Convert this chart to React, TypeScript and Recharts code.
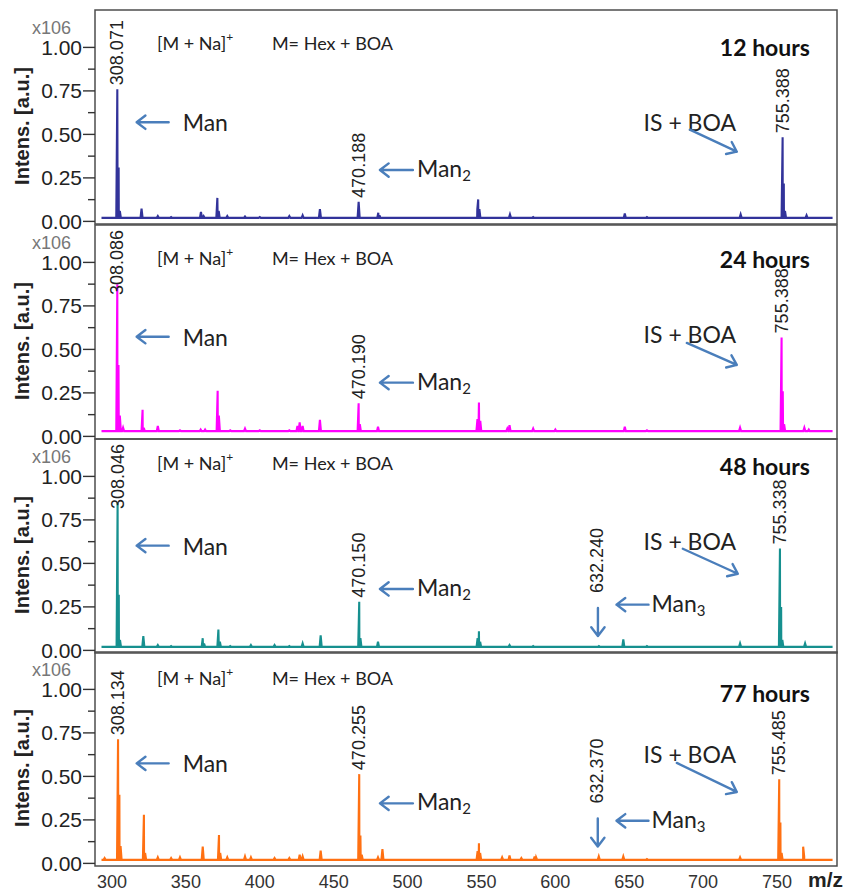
import React from "react"
import { LineChart, Line, XAxis, YAxis, ReferenceArea, ReferenceDot } from "recharts"

type Peak = [number, number]
type PeakLabel = [number, string]

// m/z axis
const MZ_TICKS = [300, 350, 400, 450, 500, 550, 600, 650, 700, 750]
const MZ_DOMAIN: [number, number] = [288.5, 790.6]
const MZ_START = 292.9
const MZ_END = 787.6

// intensity axis (x10^6)
const INTENSITY_TICKS = [0, 0.125, 0.25, 0.375, 0.5, 0.625, 0.75, 0.875, 1]
const Y_DOMAIN: [number, number] = [-0.015, 1.215]

// peak lists: [m/z, intensity]
const peaks12h: Peak[] = [
  [303.6, 0.76], [304.5, 0.31], [305.3, 0.06], [320, 0.074], [331, 0.03], [340, 0.025],
  [360.2, 0.054], [362, 0.03], [371.3, 0.135], [372.2, 0.06], [378, 0.03], [390, 0.028],
  [400, 0.025], [420, 0.03], [429, 0.035], [440.7, 0.07], [466.9, 0.112], [480.2, 0.05],
  [481, 0.035], [547.2, 0.07], [547.8, 0.126], [548.6, 0.07], [569.3, 0.04], [585, 0.025],
  [647, 0.045], [662, 0.025], [725.4, 0.04], [753.8, 0.483], [754.6, 0.218], [755.4, 0.06],
  [770, 0.035],
]
const peaks24h: Peak[] = [
  [303.6, 0.875], [304.4, 0.41], [305.3, 0.12], [307.5, 0.05], [320.7, 0.153], [321.5, 0.05],
  [331, 0.06], [346, 0.035], [360, 0.04], [363, 0.04], [371.5, 0.262], [372.3, 0.12],
  [380, 0.035], [390, 0.045], [400, 0.035], [420, 0.035], [425.5, 0.06], [427, 0.08],
  [429, 0.06], [440.7, 0.095], [466.9, 0.19], [467.7, 0.07], [480, 0.055], [547.3, 0.1],
  [548.3, 0.195], [549.2, 0.09], [567.5, 0.045], [569, 0.065], [585, 0.045], [600, 0.04],
  [647, 0.055], [662, 0.035], [725, 0.05], [753.1, 0.569], [753.9, 0.26], [754.8, 0.07],
  [768.5, 0.05], [771.5, 0.04],
]
const peaks48h: Peak[] = [
  [303.8, 0.85], [304.6, 0.32], [305.4, 0.06], [321.2, 0.082], [331, 0.03], [340, 0.025],
  [361.4, 0.07], [362.3, 0.04], [372, 0.12], [373, 0.05], [380, 0.025], [394, 0.03],
  [410, 0.03], [420, 0.025], [429, 0.04], [441.2, 0.086], [467.3, 0.28], [468.1, 0.07],
  [480, 0.05], [547.4, 0.07], [548.3, 0.11], [549.1, 0.05], [569, 0.03], [585, 0.025],
  [629.5, 0.025], [646, 0.063], [662, 0.025], [725, 0.04], [752, 0.585], [752.8, 0.25],
  [753.6, 0.06], [769, 0.04],
]
const peaks77h: Peak[] = [
  [295, 0.03], [304.1, 0.713], [305, 0.394], [305.8, 0.1], [321.6, 0.279], [322.4, 0.06],
  [331, 0.035], [340, 0.03], [346, 0.035], [361.4, 0.096], [372.4, 0.163], [373.2, 0.06],
  [378, 0.035], [390, 0.04], [394, 0.035], [410, 0.03], [420, 0.03], [427, 0.05], [429, 0.04],
  [441.2, 0.073], [467.3, 0.513], [468.1, 0.16], [469, 0.05], [480, 0.035], [483, 0.082],
  [547.4, 0.07], [548.3, 0.115], [549.1, 0.06], [564, 0.035], [569, 0.045], [577, 0.03],
  [586, 0.04], [587, 0.035], [629.4, 0.04], [646, 0.04], [662, 0.025], [725, 0.035],
  [751.5, 0.484], [752.3, 0.235], [753.1, 0.06], [767.7, 0.096], [768.4, 0.04],
]
const baselines = [0.02, 0.03, 0.02, 0.02]

// labelled peaks: [m/z, label]
const labels12h: PeakLabel[] = [[303.6, "308.071"], [466.9, "470.188"], [753.8, "755.388"]]
const labels24h: PeakLabel[] = [[303.6, "308.086"], [466.9, "470.190"], [753.1, "755.388"]]
const labels48h: PeakLabel[] = [[303.8, "308.046"], [467.3, "470.150"], [752, "755.338"]]
const labels77h: PeakLabel[] = [[304.1, "308.134"], [467.3, "470.255"], [751.5, "755.485"]]
const man3Labels: (PeakLabel | null)[] = [null, null, [629.5, "632.240"], [629.4, "632.370"]]

const timeLabels = ["12 hours", "24 hours", "48 hours", "77 hours"]
const colors = ["#32339a", "#ff00ff", "#16908f", "#ff7012"]

// annotation heights (intensity units) per panel
const headerY = [1.025, 1.028, 1.077, 1.068]
const hoursY = [1.004, 1.02, 1.057, 0.979]
const manY = [0.57, 0.573, 0.602, 0.575]
const man2Y = [0.295, 0.309, 0.353, 0.345]
const man3Y = [null, null, 0.263, 0.245]
const isBoaY = [0.573, 0.589, 0.63, 0.629]
const isBoaArrows = [[0, 8, 47, 30], [-3, 9, 47, 31], [-7, 8, 48, 33], [-13, 9, 47, 38]]

const series = [peaks12h, peaks24h, peaks48h, peaks77h]
const peakLabels = [labels12h, labels24h, labels48h, labels77h]
const panelTops = [10, 225, 439, 652]

const ARIAL = '"Liberation Sans", Arial, sans-serif'
const CALIBRI = 'Lato, "Open Sans", sans-serif'
const ARROW = "#4a7ebb"

function buildTrace(peaks: Peak[], base: number) {
  const pts = [{ mz: MZ_START, y: base }, { mz: MZ_END, y: base }]
  peaks.forEach(([mz, h]) => {
    pts.push({ mz: mz - 0.7, y: base }, { mz, y: h }, { mz: mz + 0.7, y: base })
  })
  return pts.sort((a, b) => a.mz - b.mz)
}

function Arrow({ x1, y1, x2, y2 }: { x1: number; y1: number; x2: number; y2: number }) {
  const ang = Math.atan2(y2 - y1, x2 - x1)
  const L = 11
  const a = 0.65
  const h1x = x2 - L * Math.cos(ang - a)
  const h1y = y2 - L * Math.sin(ang - a)
  const h2x = x2 - L * Math.cos(ang + a)
  const h2y = y2 - L * Math.sin(ang + a)
  return (
    <path
      d={`M${x1},${y1}L${x2},${y2}M${h1x},${h1y}L${x2},${y2}L${h2x},${h2y}`}
      stroke={ARROW}
      strokeWidth={2.4}
      fill="none"
      strokeLinecap="round"
      strokeLinejoin="round"
    />
  )
}

const IntensityTick = (props: any) => {
  const { x, y, payload } = props
  const v = payload.value as number
  const major = Math.abs(v * 4 - Math.round(v * 4)) < 1e-6
  return (
    <g>
      <line x1={x - (major ? 12 : 7)} x2={x} y1={y} y2={y} stroke="#333" strokeWidth={1.4} />
      {major && (
        <text x={x - 13} y={y} textAnchor="end" dominantBaseline="central" fontSize={21} fontFamily={ARIAL} fill="#222">
          {v.toFixed(2)}
        </text>
      )}
    </g>
  )
}

const renderIntensLabel = () => (
  <g>
    <text x={32} y={24} fontSize={18} fontFamily={ARIAL} fill="#777">x106</text>
    <text
      transform="translate(22,116) rotate(-90)"
      textAnchor="middle"
      dominantBaseline="central"
      fontSize={20}
      fontWeight="bold"
      fontFamily={ARIAL}
      fill="#222"
    >
      Intens. [a.u.]
    </text>
  </g>
)

const renderMzLabel = () => (
  <text x={808} y={235} fontSize={21} fontWeight="bold" fontFamily={ARIAL} fill="#222">m/z</text>
)

const anchor = (key: string, mz: number, y: number, render: (cx: number, cy: number) => React.ReactNode) => (
  <ReferenceDot
    key={key}
    x={mz}
    y={y}
    r={0}
    ifOverflow="visible"
    shape={(p: any) => <g>{render(p.cx, p.cy)}</g>}
  />
)

function SpectrumPanel({ index, bottomAxis }: { index: number; bottomAxis: boolean }) {
  const peaks = series[index]
  const data = buildTrace(peaks, baselines[index])
  const height = bottomAxis ? 240 : 214
  const heightAt = (mz: number) => (peaks.find((p) => p[0] === mz) ?? [mz, 0])[1]
  const [tdx, tdy, hdx, hdy] = isBoaArrows[index]
  const m3 = man3Labels[index]
  const m3y = man3Y[index]

  return (
    <div style={{ position: "absolute", left: 0, top: panelTops[index] }}>
      <LineChart width={844} height={height} data={data} margin={{ top: 0, right: 7, bottom: 0, left: 0 }}>
        <XAxis
          type="number"
          dataKey="mz"
          domain={MZ_DOMAIN}
          allowDataOverflow
          ticks={MZ_TICKS}
          interval={0}
          hide={!bottomAxis}
          height={26}
          tickLine={false}
          axisLine={false}
          tickSize={0}
          tickMargin={9}
          tick={{ fontSize: 18, fill: "#333", fontFamily: ARIAL }}
          label={bottomAxis ? renderMzLabel : undefined}
        />
        <YAxis
          type="number"
          domain={Y_DOMAIN}
          allowDataOverflow
          ticks={INTENSITY_TICKS}
          interval={0}
          width={95}
          tickLine={false}
          axisLine={false}
          tickSize={0}
          tickMargin={0}
          tick={(p: any) => <IntensityTick {...p} />}
          label={renderIntensLabel}
        />
        <ReferenceArea
          x1={MZ_DOMAIN[0]}
          x2={MZ_DOMAIN[1]}
          y1={Y_DOMAIN[0]}
          y2={Y_DOMAIN[1]}
          fill="none"
          stroke="#4d4d4d"
          strokeWidth={1.5}
          ifOverflow="visible"
        />
        <Line type="linear" dataKey="y" stroke={colors[index]} strokeWidth={2.1} dot={false} isAnimationActive={false} />

        {anchor("hdr", 330.4, headerY[index], (cx, cy) => (
          <g fontFamily={CALIBRI} fontSize={18} fill="#222">
            <text x={cx} y={cy} dominantBaseline="central">
              [M + Na]<tspan fontSize={12} dy={-7}>+</tspan>
            </text>
            <text x={cx + 115} y={cy} dominantBaseline="central">M= Hex + BOA</text>
          </g>
        ))}
        {anchor("hours", 772.3, hoursY[index], (cx, cy) => (
          <text x={cx} y={cy} textAnchor="end" dominantBaseline="central" fontFamily={CALIBRI} fontSize={23} fontWeight="bold" fill="#111">
            {timeLabels[index]}
          </text>
        ))}

        {peakLabels[index].map(([mz, label]) =>
          anchor(`pk-${label}`, mz, heightAt(mz), (cx, cy) => {
            const yStart = Math.max(cy - 4, 70)
            return (
              <text
                transform={`translate(${cx},${yStart}) rotate(-90)`}
                dominantBaseline="central"
                fontSize={18}
                fontFamily={ARIAL}
                fill="#222"
              >
                {label}
              </text>
            )
          })
        )}

        {anchor("man", 316.7, manY[index], (cx, cy) => (
          <g>
            <Arrow x1={cx + 32} y1={cy} x2={cx} y2={cy} />
            <text x={cx + 46} y={cy} dominantBaseline="central" fontFamily={CALIBRI} fontSize={23} fill="#222">Man</text>
          </g>
        ))}
        {anchor("man2", 481.3, man2Y[index], (cx, cy) => (
          <g>
            <Arrow x1={cx + 33} y1={cy} x2={cx} y2={cy} />
            <text x={cx + 37} y={cy - 2} dominantBaseline="central" fontFamily={CALIBRI} fontSize={23} fill="#222">
              Man<tspan fontSize={15} dy={7}>2</tspan>
            </text>
          </g>
        ))}
        {m3 && m3y !== null &&
          anchor("m3pk", m3[0], heightAt(m3[0]), (cx, cy) => (
            <g>
              <Arrow x1={cx - 1} y1={cy - 38} x2={cx - 1} y2={cy - 10} />
              <text
                transform={`translate(${cx - 2},${cy - 53}) rotate(-90)`}
                dominantBaseline="central"
                fontSize={18}
                fontFamily={ARIAL}
                fill="#222"
              >
                {m3[1]}
              </text>
            </g>
          ))}
        {m3 && m3y !== null &&
          anchor("man3", 641.4, m3y, (cx, cy) => (
            <g>
              <Arrow x1={cx + 32} y1={cy} x2={cx} y2={cy} />
              <text x={cx + 35} y={cy - 2} dominantBaseline="central" fontFamily={CALIBRI} fontSize={23} fill="#222">
                Man<tspan fontSize={15} dy={7}>3</tspan>
              </text>
            </g>
          ))}
        {anchor("isboa", 691, isBoaY[index], (cx, cy) => (
          <g>
            <text x={cx} y={cy} textAnchor="middle" dominantBaseline="central" fontFamily={CALIBRI} fontSize={23} fill="#222">
              IS + BOA
            </text>
            <Arrow x1={cx + tdx} y1={cy + tdy} x2={cx + hdx} y2={cy + hdy} />
          </g>
        ))}
      </LineChart>
    </div>
  )
}

export default function App() {
  return (
    <div style={{ position: "absolute", left: 0, top: 0, width: 844, height: 892, background: "#fff", overflow: "hidden" }}>
      <style>{".recharts-surface{overflow:visible}.recharts-wrapper{overflow:visible}"}</style>
      {series.map((_, i) => (
        <SpectrumPanel key={i} index={i} bottomAxis={i === series.length - 1} />
      ))}
    </div>
  )
}
